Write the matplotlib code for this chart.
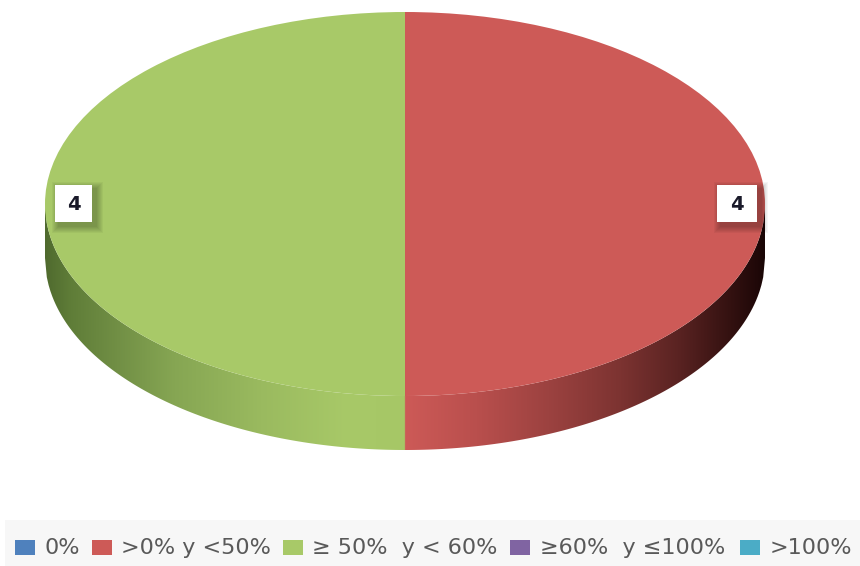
import numpy as np
import matplotlib
matplotlib.use("Agg")
import matplotlib.pyplot as plt
from matplotlib.colors import LinearSegmentedColormap
from matplotlib.patches import Rectangle, Polygon

categories = ["0%", ">0% y <50%", "\u2265 50%  y < 60%", "\u226560%  y \u2264100%", ">100%"]
values = [0, 4, 4, 0, 0]
colors = ["#4f81bd", "#cd5a57", "#a8c968", "#8064a2", "#4bacc6"]

W, H = 860, 566
CX, CY, RX, RY, DEPTH = 405.0, 204.0, 360.0, 192.0, 54.0

fig = plt.figure(figsize=(W / 100, H / 100), dpi=100, facecolor="white")
ax = fig.add_axes([0, 0, 1, 1])

ax.pie(values, colors=colors, startangle=90, counterclock=False, radius=1.0,
       wedgeprops=dict(linewidth=0, zorder=5))
ax.set_aspect("auto")
ax.set_xlim((0 - CX) / RX, (W - CX) / RX)
ax.set_ylim((CY - H) / RY, CY / RY)
ax.axis("off")


def X(px):
    return (px - CX) / RX


def Y(py):
    return (CY - py) / RY


# side wall gradient
stops = [
    (0.000, "#4f6a2e"), (0.035, "#5f7d38"), (0.10, "#718f45"), (0.18, "#86a653"),
    (0.30, "#9aba5f"), (0.42, "#a8c968"), (0.4995, "#a6c766"),
    (0.5005, "#cd5a57"), (0.60, "#b94f4d"), (0.70, "#9c4240"), (0.80, "#7c3331"),
    (0.88, "#5a2322"), (0.94, "#3a1413"), (1.00, "#1a0606"),
]
cmap = LinearSegmentedColormap.from_list("side", stops, N=1024)
grad = np.linspace(0, 1, 1024)[None, :]
im = ax.imshow(grad, cmap=cmap, extent=(-1, 1, Y(CY + RY + DEPTH + 5), 0), aspect="auto",
               zorder=2, interpolation="bilinear")
ax.set_xlim((0 - CX) / RX, (W - CX) / RX)
ax.set_ylim((CY - H) / RY, CY / RY)
t = np.linspace(-1, 1, 400)
low = -np.sqrt(1 - t ** 2)
xs = np.concatenate([t, t[::-1]])
ys = np.concatenate([low - DEPTH / RY, low[::-1]])
clip = Polygon(np.column_stack([xs, ys]), closed=True, transform=ax.transData, facecolor="none", edgecolor="none")
ax.add_patch(clip)
im.set_clip_path(clip)


def px_rect(x0, y0, x1, y1, **kw):
    r = Rectangle((X(x0), Y(y1)), X(x1) - X(x0), Y(y0) - Y(y1), linewidth=0, **kw)
    ax.add_patch(r)
    return r


# data labels with soft shadow
for (x0, x1), v in zip([(717, 757), (55, 92)], [values[1], values[2]]):
    y0, y1 = 185, 222
    for g in range(7, 0, -1):
        px_rect(x0 + 4 - g, y0 + 4 - g, x1 + 4 + g, y1 + 4 + g, facecolor="black", alpha=0.04, zorder=6)
    px_rect(x0, y0, x1, y1, facecolor="white", zorder=7)
    ax.text(X((x0 + x1) / 2), Y((y0 + y1) / 2 + 0.5), str(v), ha="center", va="center",
            fontsize=14, fontweight="bold", color="#1a1a2a", family="DejaVu Sans", zorder=8)

# legend
px_rect(5, 520, W, H, facecolor="#f7f7f7", zorder=1)
sq_x = [15, 92, 283, 510, 740]
tx_x = [44, 121, 312, 540, 770]
for c, name, sx, tx in zip(colors, categories, sq_x, tx_x):
    px_rect(sx, 540, sx + 20, 555, facecolor=c, zorder=3)
    ax.text(X(tx), Y(547.5), name, ha="left", va="center", fontsize=16, color="#595959",
            family="DejaVu Sans", zorder=3)

fig.savefig("out.png", dpi=100, facecolor="white")
